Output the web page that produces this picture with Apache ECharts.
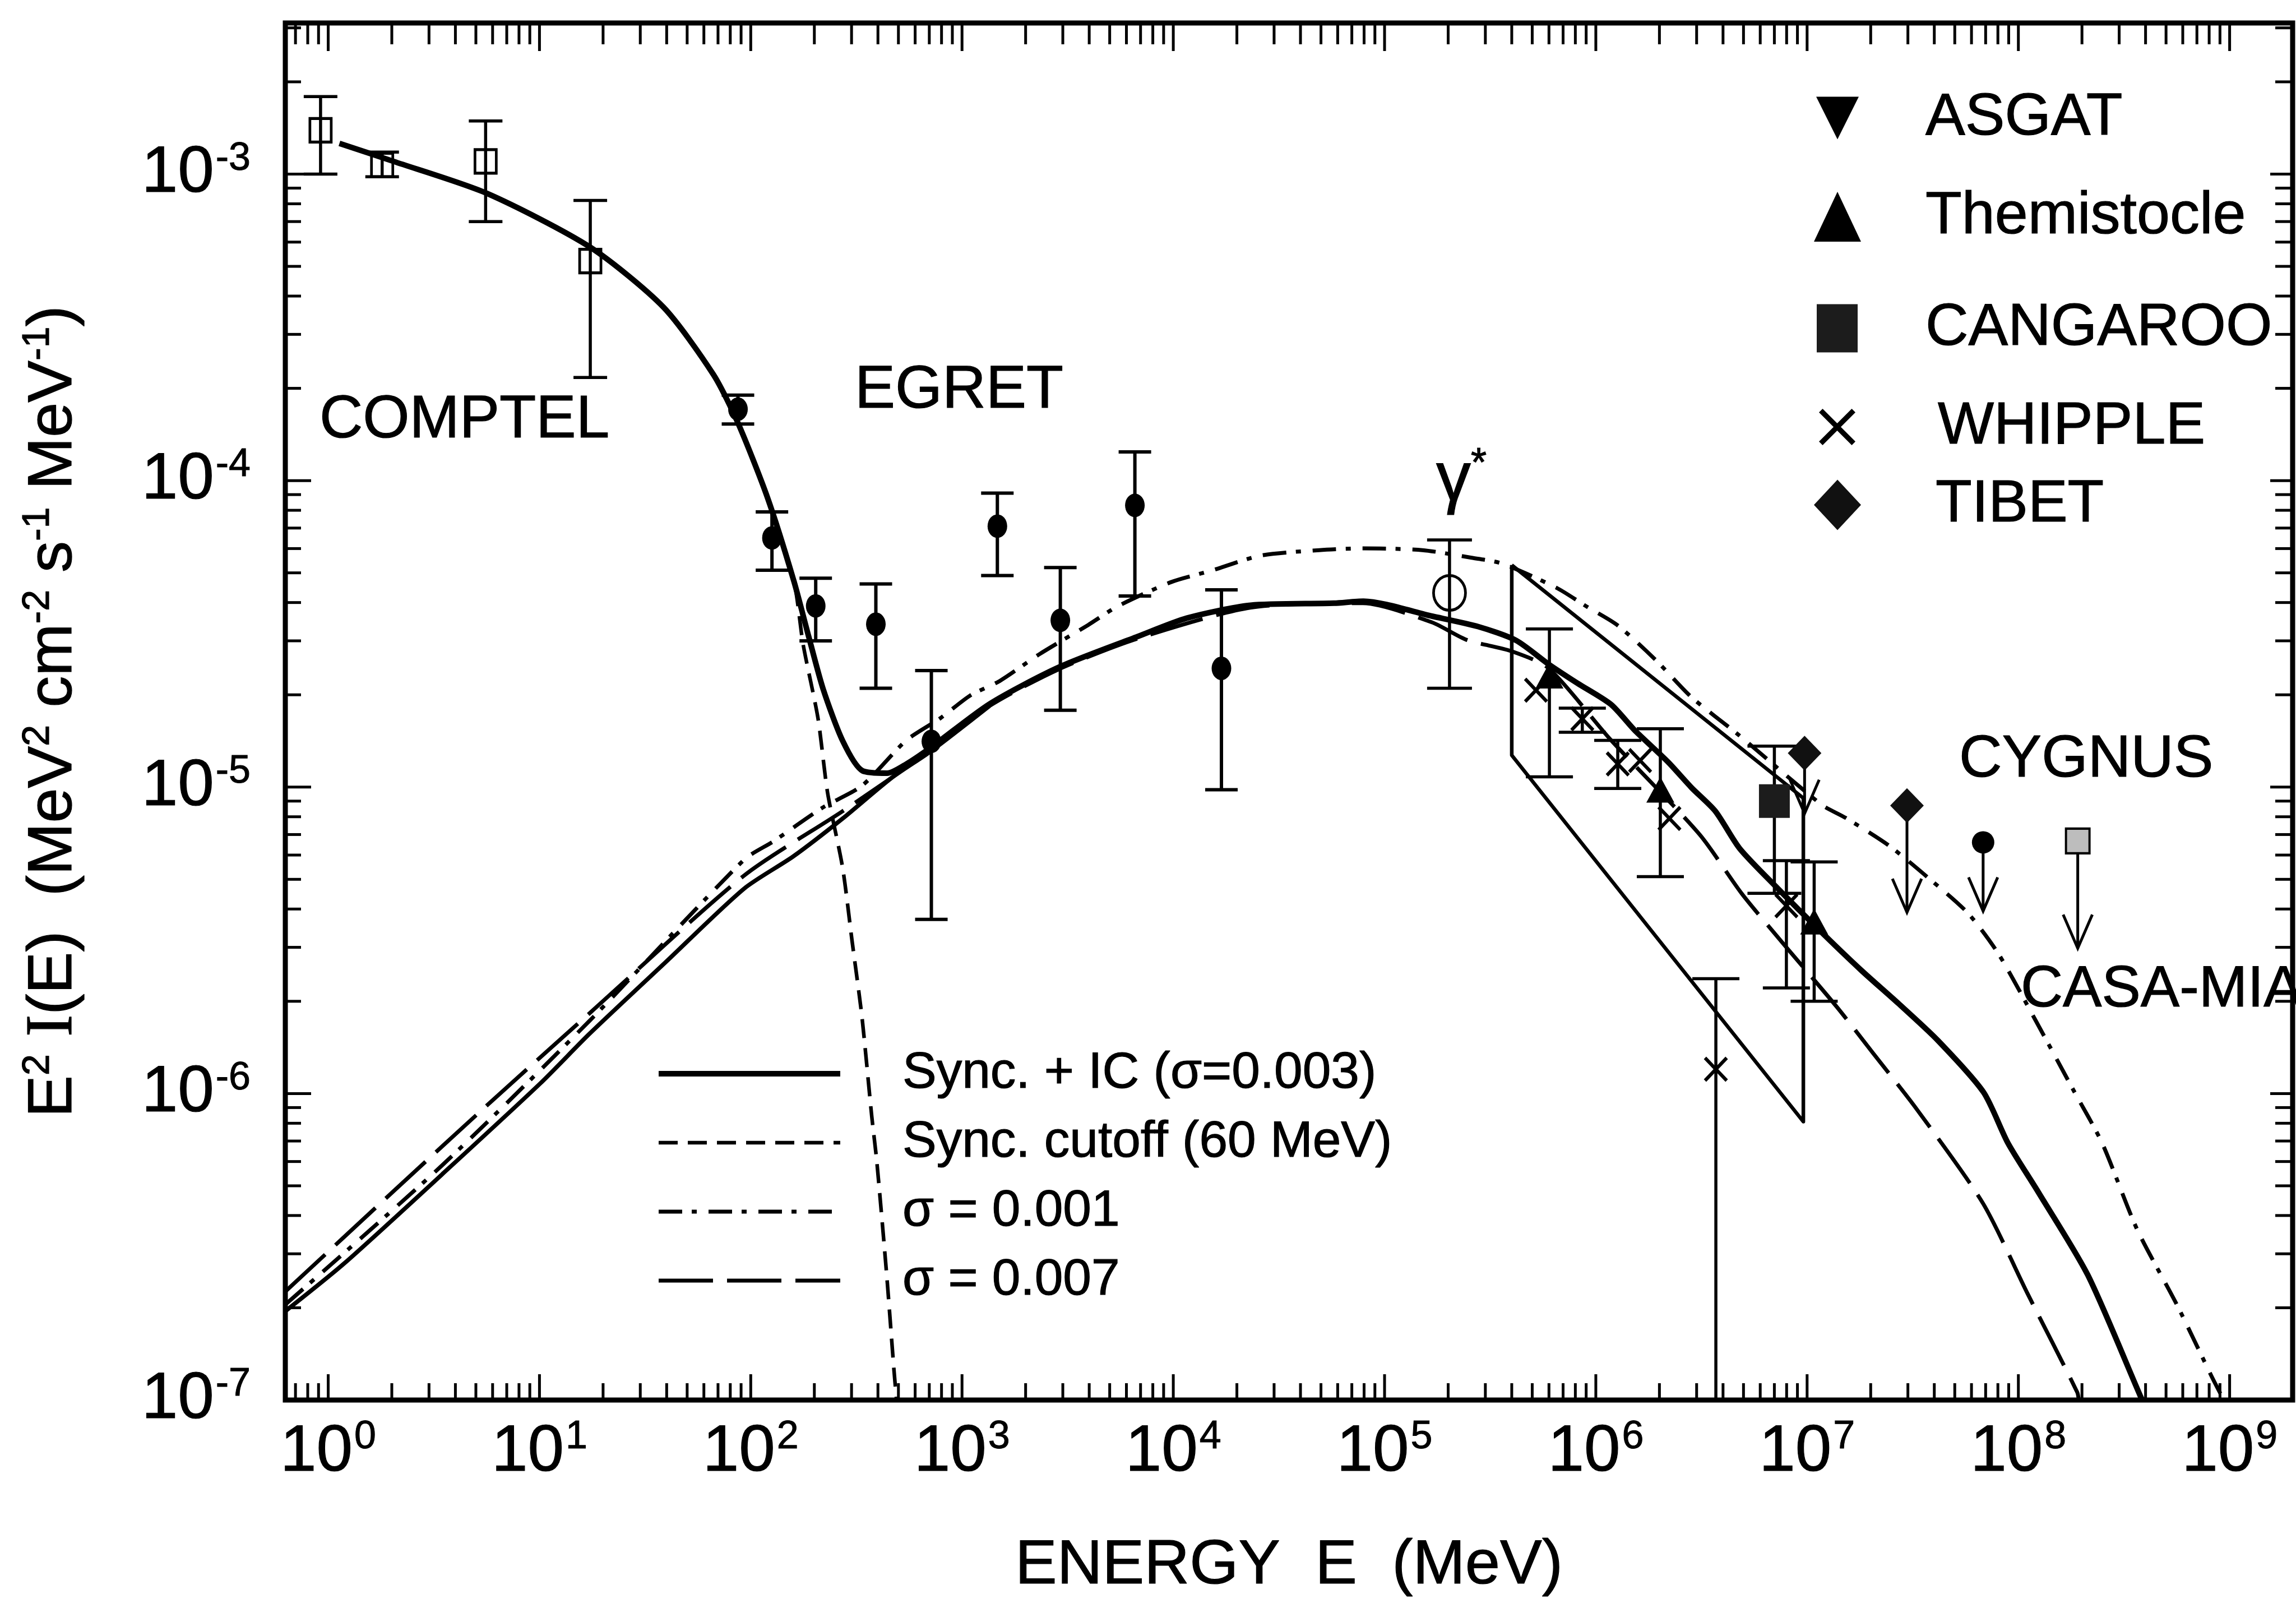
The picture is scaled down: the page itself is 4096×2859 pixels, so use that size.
<!DOCTYPE html>
<html>
<head>
<meta charset="utf-8">
<title>Gamma-ray spectrum</title>
<script src="https://cdn.jsdelivr.net/npm/echarts@6/dist/echarts.min.js"></script>
<style>
  html, body { margin: 0; padding: 0; background: #ffffff; }
  #chart { width: 4096px; height: 2859px; }
</style>
</head>
<body>
<div id="chart"></div>
<script>
// ---------------- measured points (E in MeV, E^2 I(E) in MeV^2 cm^-2 s^-1 MeV^-1) ----------------
const comptelE  = [0.92, 1.80, 5.56, 17.4];
const comptelF  = [1.39e-3, 1.07e-3, 1.10e-3, 5.2e-4];
const comptelLo = [1.00e-3, 9.8e-4, 7.0e-4, 2.17e-4];
const comptelHi = [1.79e-3, 1.18e-3, 1.49e-3, 8.2e-4];

const egretE  = [87, 126, 203, 391, 716, 1470, 2920, 6580, 16900];
const egretF  = [1.71e-4, 6.5e-5, 3.9e-5, 3.4e-5, 1.41e-5, 7.1e-5, 3.5e-5, 8.3e-5, 2.44e-5];
const egretLo = [1.53e-4, 5.1e-5, 3.0e-5, 2.1e-5, 3.7e-6, 4.9e-5, 1.78e-5, 4.2e-5, 9.8e-6];
const egretHi = [1.90e-4, 7.9e-5, 4.8e-5, 4.6e-5, 2.4e-5, 9.1e-5, 5.2e-5, 1.24e-4, 4.4e-5];

const gammaStarE  = [2.03e5];
const gammaStarF  = [4.3e-5];
const gammaStarLo = [2.1e-5];
const gammaStarHi = [6.4e-5];

const themistocleE  = [6.03e5, 2.02e6, 1.08e7];
const themistocleF  = [2.31e-5, 9.8e-6, 3.64e-6];
const themistocleLo = [1.08e-5, 5.1e-6, 2.0e-6];
const themistocleHi = [3.28e-5, 1.55e-5, 5.7e-6];

const whippleE  = [5.21e5, 8.63e5, 1.27e6, 1.62e6, 2.23e6, 3.70e6, 7.98e6];
const whippleF  = [2.07e-5, 1.67e-5, 1.19e-5, 1.22e-5, 7.9e-6, 1.20e-6, 4.1e-6];
const whippleLo = [null, 1.51e-5, 9.9e-6, null, null, 1.0e-7, 2.21e-6];
const whippleHi = [null, 1.81e-5, 1.42e-5, null, null, 2.37e-6, 5.75e-6];

const cangarooE  = [7.0e6];
const cangarooF  = [9.0e-6];
const cangarooLo = [4.5e-6];
const cangarooHi = [1.36e-5];

const asgatE = [];
const asgatF = [];

// upper limits: marker value and arrow tip
const tibetE   = [9.73e6, 2.97e7];
const tibetF   = [1.29e-5, 8.7e-6];
const tibetTip = [8.2e-6, 3.9e-6];

const cygnusE   = [6.81e7];
const cygnusF   = [6.6e-6];
const cygnusTip = [3.94e-6];

const casaMiaE   = [1.91e8];
const casaMiaF   = [6.67e-6];
const casaMiaTip = [2.98e-6];

// ---------------- model curves ----------------
const syncIcE = [1.13, 2.04, 5.64, 17.4, 38.6, 66.5, 86.7, 120, 160, 188, 220, 273, 338, 442, 546, 716,
  1355, 2870, 6790, 11600, 23200, 57700, 79400, 168000, 277000, 419000, 601000, 820000,
  1.18e6, 1.53e6, 2.19e6, 2.84e6, 3.68e6, 4.79e6, 7.13e6, 1.14e7, 1.81e7, 2.70e7, 4.16e7,
  6.84e7, 8.93e7, 1.24e8, 2.13e8, 3.78e8, 3.86e8];
const syncIcF = [1.26e-3, 1.10e-3, 8.65e-4, 5.77e-4, 3.68e-4, 2.22e-4, 1.55e-4, 8.8e-5, 4.7e-5, 3.1e-5,
  2.09e-5, 1.41e-5, 1.13e-5, 1.11e-5, 1.19e-5, 1.35e-5,
  1.87e-5, 2.46e-5, 3.10e-5, 3.56e-5, 3.92e-5, 3.98e-5, 4.04e-5, 3.61e-5, 3.34e-5, 3.01e-5, 2.51e-5, 2.18e-5,
  1.86e-5, 1.53e-5, 1.21e-5, 9.95e-6, 8.34e-6, 6.31e-6, 4.73e-6, 3.42e-6, 2.52e-6, 1.97e-6, 1.49e-6,
  1.01e-6, 6.89e-7, 4.78e-7, 2.56e-7, 1.03e-7, 1.0e-7];

const icLowE = [0.627, 1.19, 3.45, 10.1, 17.3, 39.7, 92.9, 159, 272, 463, 713, 1349];
const icLowF = [1.95e-7, 2.79e-7, 5.44e-7, 1.08e-6, 1.57e-6, 2.69e-6, 4.66e-6, 5.94e-6, 7.89e-6, 1.07e-5, 1.31e-5, 1.84e-5];

const cutoffE = [86.7, 120, 160, 177, 208, 231, 272, 302, 336, 374, 395, 440, 476, 490];
const cutoffF = [1.55e-4, 8.8e-5, 4.7e-5, 2.92e-5, 1.68e-5, 9.59e-6, 5.47e-6, 3.13e-6, 1.78e-6, 8.41e-7,
  6.01e-7, 2.56e-7, 1.26e-7, 1.0e-7];

const sigma001E = [0.627, 3.45, 17.3, 92.9, 128, 219, 336, 545, 792, 1094, 1510, 2317, 3955, 5458, 9817,
  15100, 25820, 49100, 79430, 151000, 258200, 356500, 647100, 905700, 1.268e6, 1.919e6, 2.825e6, 4.74e6,
  1.169e7, 1.524e7, 2.427e7, 3.741e7, 5.768e7, 8.04e7, 1.197e8, 1.845e8, 2.49e8, 3.65e8, 5.64e8, 8.24e8, 9.38e8];
const sigma001F = [2.05e-7, 5.82e-7, 1.73e-6, 5.79e-6, 6.65e-6, 8.57e-6, 1.01e-5, 1.42e-5, 1.68e-5, 1.99e-5,
  2.22e-5, 2.71e-5, 3.38e-5, 3.89e-5, 4.67e-5, 5.08e-5, 5.69e-5, 5.93e-5, 6.01e-5, 5.93e-5, 5.60e-5, 5.37e-5,
  4.48e-5, 3.88e-5, 3.37e-5, 2.60e-5, 1.97e-5, 1.48e-5, 8.77e-6, 7.93e-6, 6.46e-6, 5.06e-6, 3.88e-6, 2.86e-6,
  1.75e-6, 1.01e-6, 6.90e-7, 3.60e-7, 2.04e-7, 1.19e-7, 1.0e-7];

const sigma007E = [0.627, 2.03, 5.93, 17.3, 92.9, 272, 713, 1349, 2858, 6761, 23120, 78890, 167100, 245100,
  395700, 598400, 1.172e6, 3.09e6, 4.92e6, 7.85e6, 1.38e7, 2.06e7, 3.28e7, 6.79e7, 1.107e8, 1.90e8, 1.93e8];
const sigma007F = [2.26e-7, 4.79e-7, 9.44e-7, 1.83e-6, 5.14e-6, 8.34e-6, 1.32e-5, 1.84e-5, 2.42e-5, 3.05e-5,
  3.85e-5, 3.98e-5, 3.45e-5, 3.02e-5, 2.78e-5, 2.44e-5, 1.43e-5, 7.02e-6, 4.48e-6, 3.04e-6, 1.92e-6,
  1.35e-6, 8.95e-7, 4.39e-7, 2.22e-7, 1.06e-7, 1.0e-7];

// power-law band drawn as a closed outline
const bandE = [4.0e5, 9.6e6, 9.6e6, 4.0e5, 4.0e5];
const bandF = [5.30e-5, 9.2e-6, 8.1e-7, 1.27e-5, 5.30e-5];

// ---------------- axes ----------------
const X_MIN = 0.6266, X_MAX = 1.987e9;
const Y_MIN = 1e-7, Y_MAX = 3.112e-3;
const xDecades = [1, 10, 100, 1e3, 1e4, 1e5, 1e6, 1e7, 1e8, 1e9];
const yDecades = [1e-7, 1e-6, 1e-5, 1e-4, 1e-3];

// ---------------- helpers ----------------
const INK = '#000000';
const FONT = '"Liberation Sans", Arial, Helvetica, sans-serif';
const pairs = (a, b) => a.map((v, i) => [v, b[i]]);
const rows = (...cols) => cols[0].map((_, i) => cols.map(c => c[i]));

function minorValues(lo, hi) {
  const out = [];
  for (let d = Math.floor(Math.log10(lo)) - 1; d <= Math.ceil(Math.log10(hi)); d++) {
    for (let k = 2; k <= 9; k++) {
      const v = k * Math.pow(10, d);
      if (v > lo && v < hi) out.push(v);
    }
  }
  return out;
}

function powerLabel(value) {
  const e = Math.log10(value);
  const n = Math.round(e);
  if (Math.abs(e - n) > 1e-6) return '';
  return '{b|10}{s|' + n + '}';
}

const labelRich = {
  b: { fontSize: 116, lineHeight: 124, fontFamily: FONT, color: INK, textBorderColor: INK, textBorderWidth: 1.2 },
  s: { fontSize: 70, lineHeight: 80, verticalAlign: 'top', fontFamily: FONT, color: INK, padding: [0, 0, 0, 3],
       textBorderColor: INK, textBorderWidth: 1 }
};

function lineEl(x1, y1, x2, y2, w) {
  return { type: 'line', shape: { x1, y1, x2, y2 }, style: { stroke: INK, lineWidth: w } };
}

function errorBars(name, E, lo, hi, capHalf, lw) {
  const data = rows(E, lo, hi).filter(r => r[1] != null && r[2] != null);
  return {
    name: name + ' errors', type: 'custom', coordinateSystem: 'cartesian2d', z: 4,
    encode: { x: 0, y: [1, 2] }, data, silent: true,
    renderItem(params, api) {
      const x = api.value(0), l = api.value(1), h = api.value(2);
      const top = api.coord([x, h]);
      const bot = api.coord([x, l]);
      const kids = [
        lineEl(top[0], top[1], bot[0], bot[1], lw),
        lineEl(top[0] - capHalf, top[1], top[0] + capHalf, top[1], lw)
      ];
      if (l > Y_MIN * 1.0001) kids.push(lineEl(bot[0] - capHalf, bot[1], bot[0] + capHalf, bot[1], lw));
      return { type: 'group', children: kids };
    }
  };
}

function limitArrows(name, E, F, tip) {
  return {
    name: name + ' limits', type: 'custom', coordinateSystem: 'cartesian2d', z: 4,
    encode: { x: 0, y: [1, 2] }, data: rows(E, F, tip), silent: true,
    renderItem(params, api) {
      const x = api.value(0);
      const a = api.coord([x, api.value(1)]);
      const b = api.coord([x, api.value(2)]);
      return {
        type: 'group', children: [
          lineEl(a[0], a[1], b[0], b[1], 5),
          { type: 'polyline', shape: { points: [[b[0] - 26, b[1] - 60], [b[0], b[1]], [b[0] + 26, b[1] - 60]] },
            style: { stroke: INK, lineWidth: 5, fill: null } }
        ]
      };
    }
  };
}

function curve(name, E, F, width, type, z) {
  return {
    name, type: 'line', data: pairs(E, F), symbol: 'none', smooth: 0.25,
    lineStyle: { color: INK, width, type, cap: 'butt', join: 'round' }, itemStyle: { color: INK }, z: z || 3,
    clip: true, silent: true
  };
}

function markers(name, E, F, symbol, size, style) {
  return {
    name, type: 'scatter', data: pairs(E, F), symbol, symbolSize: size, z: 6, silent: true,
    itemStyle: Object.assign({ color: INK, opacity: 1 }, style || {})
  };
}

const ELLIPSE = 'path://M0,50 A50,50 0 1,0 100,50 A50,50 0 1,0 0,50 Z';
const CROSS = 'path://M0,1 L1,0 L5,4 L9,0 L10,1 L6,5 L10,9 L9,10 L5,6 L1,10 L0,9 L4,5 Z';
const DOWN_TRIANGLE = 'path://M0,0 L10,0 L5,10 Z';

// tick marks on all four sides of the frame
const xMinor = minorValues(X_MIN, X_MAX);
const yMinor = minorValues(Y_MIN, Y_MAX);
const xTickData = xDecades.map(v => [v, Y_MIN, 1]).concat(xMinor.map(v => [v, Y_MIN, 0]));
const yTickData = yDecades.map(v => [X_MIN, v, 1]).concat(yMinor.map(v => [X_MIN, v, 0]));

const tickSeries = [
  {
    name: 'x ticks', type: 'custom', coordinateSystem: 'cartesian2d', z: 7, silent: true,
    encode: { x: 0, y: 1 }, data: xTickData,
    renderItem(params, api) {
      const v = api.value(0), major = api.value(2) === 1;
      const b = api.coord([v, Y_MIN]);
      const t = api.coord([v, Y_MAX]);
      return { type: 'group', children: [
        lineEl(b[0], b[1], b[0], b[1] - (major ? 46 : 30), 5),
        lineEl(t[0], t[1], t[0], t[1] + (major ? 50 : 38), 5)
      ] };
    }
  },
  {
    name: 'y ticks', type: 'custom', coordinateSystem: 'cartesian2d', z: 7, silent: true,
    encode: { x: 0, y: 1 }, data: yTickData,
    renderItem(params, api) {
      const v = api.value(1), major = api.value(2) === 1;
      const l = api.coord([X_MIN, v]);
      const r = api.coord([X_MAX, v]);
      return { type: 'group', children: [
        lineEl(l[0], l[1], l[0] + (major ? 46 : 28), l[1], 5),
        lineEl(r[0], r[1], r[0] - (major ? 40 : 31), r[1], 5)
      ] };
    }
  }
];

// one legend block per instrument, matching the stacked key at upper right
function markerKey(name, left, top, w, h, pad) {
  return {
    data: [name], left, top, itemWidth: w, itemHeight: h, padding: 0, selectedMode: false,
    symbolKeepAspect: true,
    formatter: n => '{t|' + n + '}',
    textStyle: { fontFamily: FONT, fontSize: 106, color: INK, lineHeight: h,
      rich: { t: { fontFamily: FONT, fontSize: 106, color: INK, lineHeight: h, padding: [0, 0, 0, pad],
                   textBorderColor: INK, textBorderWidth: 1.2 } } }
  };
}

const curveNames = ['Sync. + IC (\u03c3=0.003)', 'Sync. cutoff (60 MeV)', '\u03c3 = 0.001', '\u03c3 = 0.007'];
const TEXT_EDGE = { textBorderColor: INK, textBorderWidth: 1.2 };

const option = {
  animation: false,
  backgroundColor: '#ffffff',
  textStyle: { fontFamily: FONT, color: INK },
  grid: { left: 509, right: 6, top: 41, bottom: 362, show: true, borderColor: INK, borderWidth: 9,
          backgroundColor: 'transparent', containLabel: false },
  xAxis: {
    type: 'log', logBase: 10, min: X_MIN, max: X_MAX,
    name: 'ENERGY  E  (MeV)', nameLocation: 'middle', nameGap: 240,
    nameTextStyle: Object.assign({ fontFamily: FONT, fontSize: 112, color: INK }, TEXT_EDGE),
    axisLine: { show: false }, axisTick: { show: false }, splitLine: { show: false },
    axisLabel: { formatter: powerLabel, margin: 32, rich: labelRich, color: INK }
  },
  yAxis: {
    type: 'log', logBase: 10, min: Y_MIN, max: Y_MAX,
    name: '{a|E}{s|2}{a| }{i|I}{a|(E)  (MeV}{s|2}{a| cm}{s|-2}{a| s}{s|-1}{a| MeV}{s|-1}{a|)}',
    nameLocation: 'middle', nameRotate: 90, nameGap: 351,
    nameTextStyle: {
      fontFamily: FONT, fontSize: 112, color: INK,
      rich: {
        a: Object.assign({ fontFamily: FONT, fontSize: 112, lineHeight: 124, color: INK }, TEXT_EDGE),
        i: Object.assign({ fontFamily: '"Liberation Serif", "Times New Roman", serif', fontSize: 118, lineHeight: 124, color: INK }, TEXT_EDGE),
        s: Object.assign({ fontFamily: FONT, fontSize: 68, lineHeight: 80, verticalAlign: 'top', color: INK }, TEXT_EDGE)
      }
    },
    axisLine: { show: false }, axisTick: { show: false }, splitLine: { show: false },
    axisLabel: { formatter: powerLabel, margin: 62, rich: labelRich, color: INK }
  },
  legend: [
    markerKey('ASGAT', 3240, 157, 76, 86, 114),
    markerKey('Themistocle', 3236, 333, 84, 89, 110),
    markerKey('CANGAROO', 3241, 532, 73, 86, 116),
    markerKey('WHIPPLE', 3245, 708, 65, 67, 142),
    markerKey('TIBET', 3236, 847, 84, 90, 128),
    {
      data: curveNames, orient: 'vertical', left: 1170, top: 1865, padding: 0,
      itemWidth: 324, itemHeight: 4, itemGap: 23, selectedMode: false,
      itemStyle: { opacity: 0 },
      lineStyle: { width: 'inherit', type: 'inherit', color: INK },
      formatter: n => '{t|' + n + '}',
      textStyle: { fontFamily: FONT, fontSize: 91, color: INK, lineHeight: 100,
        rich: { t: Object.assign({ fontFamily: FONT, fontSize: 91, color: INK, lineHeight: 100, padding: [0, 0, 0, 106] }, TEXT_EDGE) } }
    }
  ],
  graphic: [
    { type: 'text', x: 570, y: 750, silent: true,
      style: { text: 'COMPTEL', font: '107px ' + FONT, fill: INK, stroke: INK, lineWidth: 1.2, align: 'left', verticalAlign: 'middle' } },
    { type: 'text', x: 1525, y: 697, silent: true,
      style: { text: 'EGRET', font: '108px ' + FONT, fill: INK, stroke: INK, lineWidth: 1.2, align: 'left', verticalAlign: 'middle' } },
    { type: 'text', x: 2562, y: 858, silent: true,
      style: { text: '{g|\u03b3}{s|*}', fill: INK, stroke: INK, lineWidth: 1.2, align: 'left', verticalAlign: 'middle',
        rich: { g: { fontFamily: FONT, fontSize: 124, lineHeight: 130 },
                s: { fontFamily: FONT, fontSize: 72, lineHeight: 90, verticalAlign: 'top' } } } },
    { type: 'text', x: 3495, y: 1356, silent: true,
      style: { text: 'CYGNUS', font: '106px ' + FONT, fill: INK, stroke: INK, lineWidth: 1.2, align: 'left', verticalAlign: 'middle' } },
    { type: 'text', x: 3605, y: 1766, silent: true,
      style: { text: 'CASA-MIA', font: '104px ' + FONT, fill: INK, stroke: INK, lineWidth: 1.2, align: 'left', verticalAlign: 'middle' } }
  ],
  series: [
    curve(curveNames[0], syncIcE, syncIcF, 10, 'solid', 3),
    curve('IC component', icLowE, icLowF, 7.5, 'solid', 3),
    curve(curveNames[1], cutoffE, cutoffF, 6.5, [34, 18], 3),
    curve(curveNames[2], sigma001E, sigma001F, 7, [42, 17, 9, 21], 3),
    curve(curveNames[3], sigma007E, sigma007F, 7, [97, 25], 3),
    Object.assign(curve('Power-law band', bandE, bandF, 6.5, 'solid', 3), { smooth: false }),

    errorBars('COMPTEL', comptelE, comptelLo, comptelHi, 30, 5.5),
    errorBars('EGRET', egretE, egretLo, egretHi, 29, 6),
    errorBars('gamma', gammaStarE, gammaStarLo, gammaStarHi, 40, 5.5),
    errorBars('Themistocle', themistocleE, themistocleLo, themistocleHi, 42, 5.5),
    errorBars('WHIPPLE', whippleE, whippleLo, whippleHi, 42, 5.5),
    errorBars('CANGAROO', cangarooE, cangarooLo, cangarooHi, 48, 5.5),
    limitArrows('TIBET', tibetE, tibetF, tibetTip),
    limitArrows('CYGNUS', cygnusE, cygnusF, cygnusTip),
    limitArrows('CASA-MIA', casaMiaE, casaMiaF, casaMiaTip),

    markers('COMPTEL', comptelE, comptelF, 'rect', [38, 42], { color: 'rgba(0,0,0,0)', borderColor: INK, borderWidth: 5 }),
    markers('EGRET', egretE, egretF, ELLIPSE, [35, 42]),
    markers('\u03b3*', gammaStarE, gammaStarF, ELLIPSE, [57, 62], { color: 'rgba(0,0,0,0)', borderColor: INK, borderWidth: 5 }),
    markers('ASGAT', asgatE, asgatF, DOWN_TRIANGLE, [50, 50]),
    markers('Themistocle', themistocleE, themistocleF, 'triangle', [50, 46]),
    markers('CANGAROO', cangarooE, cangarooF, 'rect', [55, 60], { color: '#1c1c1c' }),
    markers('WHIPPLE', whippleE, whippleF, CROSS, [43, 45]),
    markers('TIBET', tibetE, tibetF, 'diamond', [60, 62], { color: '#111111' }),
    markers('CYGNUS', cygnusE, cygnusF, 'circle', 40),
    markers('CASA-MIA', casaMiaE, casaMiaF, 'rect', [42, 44], { color: '#bdbdbd', borderColor: INK, borderWidth: 4 })
  ].concat(tickSeries)
};

const chart = echarts.init(document.getElementById('chart'), null, { renderer: 'canvas', width: 4096, height: 2859 });
chart.setOption(option);
</script>
</body>
</html>
